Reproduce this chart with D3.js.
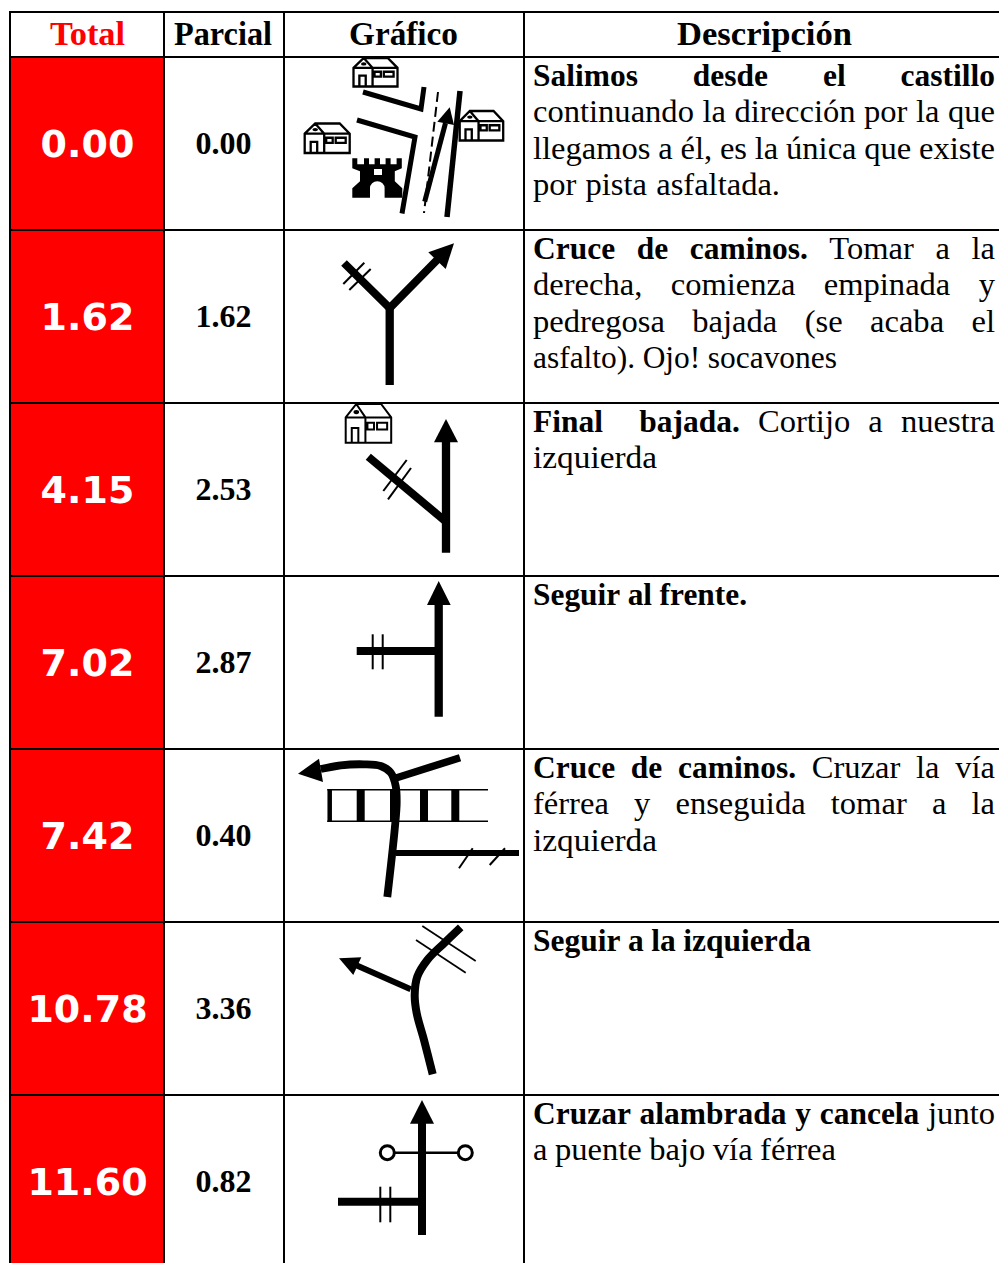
<!DOCTYPE html>
<html>
<head>
<meta charset="utf-8">
<script src="https://cdn.jsdelivr.net/npm/d3@7"></script>
<style>
  body { margin: 0; background: #fff; }
  svg { display: block; }
</style>
</head>
<body>
<svg id="chart"></svg>
<script>
// table content
const columns = ['Total', 'Parcial', 'Gráfico', 'Descripción'];
const totals = ['0.00', '1.62', '4.15', '7.02', '7.42', '10.78', '11.60'];
const parciales = ['0.00', '1.62', '2.53', '2.87', '0.40', '3.36', '0.82'];

// text before the | is bold
const descriptions = [
  ['Salimos desde el castillo|', 'continuando la dirección por la que', 'llegamos a él, es la única que existe', 'por pista asfaltada.'],
  ['Cruce de caminos.|Tomar a la', 'derecha, comienza empinada y', 'pedregosa bajada (se acaba el', 'asfalto). Ojo! socavones'],
  ['Final  bajada.|Cortijo a nuestra', 'izquierda'],
  ['Seguir al frente.|'],
  ['Cruce de caminos.|Cruzar la vía', 'férrea y enseguida tomar a la', 'izquierda'],
  ['Seguir a la izquierda|'],
  ['Cruzar alambrada y cancela|junto', 'a puente bajo vía férrea']
];
// where each line of text ends, 995 is a justified line
const lineEnds = [
  [995, 995, 995, 780],
  [995, 995, 995, 837],
  [995, 657],
  [747],
  [995, 995, 657],
  [811],
  [995, 836]
];

const width = 999,
  height = 1263,
  rowH = 173,
  serif = '"Liberation Serif", serif';

const x = d3.scaleOrdinal(columns.concat('end'), [10, 164, 284, 524, 1003]);
const y = d3.scaleLinear().domain([0, totals.length]).range([57, 57 + totals.length * rowH]);

const svg = d3.select('#chart').attr('width', width).attr('height', height);

// red column
svg.selectAll('rect.total')
  .data(totals)
  .enter()
  .append('rect')
  .attr('class', 'total')
  .attr('x', x('Total'))
  .attr('y', (d, i) => y(i))
  .attr('width', x('Parcial') - x('Total'))
  .attr('height', rowH)
  .attr('fill', '#ff0000');

// ---- helpers for the road sketches, coordinates are relative to the cell
const lineGen = d3.line();

function road(g, pts, w, curve) {
  return g.append('path')
    .attr('d', (curve ? d3.line().curve(curve) : lineGen)(pts))
    .attr('fill', 'none')
    .attr('stroke', '#000')
    .attr('stroke-width', w);
}

function head(g, pts) {
  g.append('path').attr('d', lineGen(pts) + 'Z').attr('fill', '#000');
}

function house(g, hx, hy, w, h, sw) {
  let sx = w / 45, sy = h / 29.5;
  let c = g.append('g').attr('transform', `translate(${hx},${hy}) scale(${sx},${sy})`);
  c.append('path')
    .attr('d', 'M0,10 L10.5,0 H35 L45,10 V29 H0 Z M0,10 H45 M10.5,0 L19.5,10 V29 ' +
      'M6,29 V18 H12.5 V29 M21.5,14 H28 V19 H21.5 Z M31,14 H41 V19 H31 Z')
    .attr('fill', 'none')
    .attr('stroke', '#000')
    .attr('stroke-width', sw)
    .attr('vector-effect', 'non-scaling-stroke');
  c.append('ellipse').attr('cx', 10.5).attr('cy', 6).attr('rx', 2.8).attr('ry', 1.6).attr('fill', '#000');
}

function castle(g, cx, cy) {
  g.append('path')
    .attr('transform', `translate(${cx},${cy})`)
    .attr('fill', '#000')
    .attr('fill-rule', 'evenodd')
    .attr('d', 'M0,0 H5 V6 H11.7 V0 H16.7 V6 H22.3 V0 H27.7 V6 H33.3 V0 H38.3 V6 H44.3 V0 H49.5 V10 ' +
      'L42.5,13 V23 L50,30 V39.4 H32.3 V30 A7.3,7 0 0 0 17.7,30 V39.4 H0 V30 L7.7,23 V13 L0,10 Z ' +
      'M21.7,10.7 H29.7 V16.7 H21.7 Z');
}

// one function per row
const sketches = [
  function (g) {
    house(g, 69.5, 1, 44, 29, 2.3);
    house(g, 20.7, 66.5, 45, 30, 2.3);
    house(g, 175.7, 54, 43.5, 30, 2.3);
    castle(g, 68.3, 101.3);
    road(g, [[79, 35], [137, 52], [140, 30]], 5);
    road(g, [[73, 63], [131, 80], [118, 156.5]], 5);
    road(g, [[176, 34], [163, 160]], 5.5);
    road(g, [[154, 35], [140, 156]], 2).attr('stroke-dasharray', '10,5');
    road(g, [[140.7, 144.7], [161.5, 66]], 5);
    head(g, [[165.7, 50.3], [153.3, 64.7], [170, 68]]);
  },
  function (g) {
    road(g, [[105.7, 155], [105.7, 78]], 8.3);
    road(g, [[60, 33], [105.7, 78], [155, 28]], 8);
    head(g, [[170, 13.3], [144.3, 22.3], [161.7, 39]]);
    road(g, [[59.3, 54], [80.3, 32.7]], 2);
    road(g, [[65.3, 60], [86.7, 39]], 2);
  },
  function (g) {
    house(g, 61.7, 1, 45.5, 39.5, 2);
    road(g, [[162, 149.7], [162, 37]], 8.3);
    head(g, [[162, 16], [150, 39.3], [174, 39.3]]);
    road(g, [[84.3, 53.7], [162, 118.7]], 8);
    road(g, [[99.3, 88], [122.7, 57]], 2);
    road(g, [[104, 96.3], [127, 65]], 2);
  },
  function (g) {
    road(g, [[154.7, 140.7], [154.7, 27]], 8.3);
    head(g, [[154.7, 5], [143, 29], [166.7, 29]]);
    road(g, [[72.7, 75], [154.7, 75]], 8);
    road(g, [[88.7, 58.3], [88.7, 93.3]], 2);
    road(g, [[98.7, 58.3], [98.7, 93.3]], 2);
  },
  function (g) {
    road(g, [[43.3, 40.7], [204, 40.7]], 1.6);
    road(g, [[43.3, 72.3], [204, 72.3]], 1.6);
    [[45.7, 4.5], [76.7, 8], [110, 8], [140, 8], [171.3, 8]].forEach(t => {
      road(g, [[t[0], 40], [t[0], 73]], t[1]);
    });
    road(g, [[103.3, 148], [110.7, 80.3], [112.7, 53.7], [111.7, 37], [106.7, 23.7], [96.7, 17], [80, 15.3], [56.7, 16.3], [36.7, 20]],
      7.8, d3.curveCatmullRom);
    head(g, [[14, 24.7], [35, 9.7], [39, 33]]);
    road(g, [[112, 29], [176, 8.7]], 7.5);
    road(g, [[111.7, 104], [235, 104]], 6);
    road(g, [[175, 119.3], [188.7, 99.3]], 2);
    road(g, [[205.7, 116], [221, 99.3]], 2);
  },
  function (g) {
    road(g, [[148.7, 152.3], [140, 118], [132.7, 91.3], [130.7, 73], [133.3, 54.7], [143.3, 38], [160, 21.3], [176.7, 5.3]],
      8, d3.curveCatmullRom);
    road(g, [[126.7, 67.3], [71.7, 43]], 6);
    head(g, [[55, 36.3], [77.3, 35.3], [69.3, 53]]);
    road(g, [[138.3, 4], [191.7, 39]], 1.7);
    road(g, [[132, 18], [181.7, 50.7]], 1.7);
  },
  function (g) {
    road(g, [[103.3, 57.7], [181.3, 57.7]], 2.5);
    road(g, [[138, 140], [138, 27]], 8);
    head(g, [[138, 5], [126, 28.7], [150, 28.7]]);
    road(g, [[54, 106.7], [138, 106.7]], 8);
    road(g, [[96.3, 91.7], [96.3, 127.3]], 2);
    road(g, [[106.3, 91.7], [106.3, 127.3]], 2);
    [103.3, 181.3].forEach(c => {
      g.append('circle').attr('cx', c).attr('cy', 57.7).attr('r', 7)
        .attr('fill', '#fff').attr('stroke', '#000').attr('stroke-width', 3);
    });
  }
];

sketches.forEach(function (draw, i) {
  draw(svg.append('g').attr('transform', `translate(${x('Gráfico')},${y(i)})`));
});

// grid on top so the houses get cut by the row line
const hLines = [12].concat(d3.range(totals.length).map(i => y(i)));
svg.selectAll('line.h')
  .data(hLines)
  .enter()
  .append('line')
  .attr('class', 'h')
  .attr('x1', 9).attr('x2', width)
  .attr('y1', d => d).attr('y2', d => d)
  .attr('stroke', '#000').attr('stroke-width', 2);

svg.selectAll('line.v')
  .data(columns)
  .enter()
  .append('line')
  .attr('class', 'v')
  .attr('x1', d => x(d)).attr('x2', d => x(d))
  .attr('y1', 11).attr('y2', height)
  .attr('stroke', '#000').attr('stroke-width', 2);

// header, the font is narrower than the original so it gets stretched a bit
const headerAt = { 'Total': 87.5, 'Parcial': 223, 'Gráfico': 403.5, 'Descripción': 764.5 };
const headerLen = { 'Total': 75, 'Parcial': 98, 'Gráfico': 109, 'Descripción': 175 };
svg.selectAll('text.head')
  .data(columns)
  .enter()
  .append('text')
  .attr('class', 'head')
  .attr('x', d => headerAt[d])
  .attr('y', 45)
  .attr('text-anchor', 'middle')
  .attr('font-family', serif)
  .attr('font-weight', 'bold')
  .attr('font-size', 33)
  .attr('textLength', d => headerLen[d])
  .attr('lengthAdjust', 'spacingAndGlyphs')
  .attr('fill', d => d === 'Total' ? '#ff0000' : '#000')
  .text(d => d);

// numbers
svg.selectAll('text.total')
  .data(totals)
  .enter()
  .append('text')
  .attr('class', 'total')
  .attr('x', 87.5)
  .attr('y', (d, i) => y(i) + 100)
  .attr('text-anchor', 'middle')
  .attr('font-family', '"DejaVu Sans", sans-serif')
  .attr('font-weight', 'bold')
  .attr('font-size', 38)
  .attr('fill', '#fff')
  .text(d => d);

svg.selectAll('text.parcial')
  .data(parciales)
  .enter()
  .append('text')
  .attr('class', 'parcial')
  .attr('x', 223.5)
  .attr('y', (d, i) => y(i) + 97)
  .attr('text-anchor', 'middle')
  .attr('font-family', serif)
  .attr('font-weight', 'bold')
  .attr('font-size', 32)
  .attr('fill', '#000')
  .text(d => d);

// description cell, words are placed one by one to fill the line
const descLeft = 533, leading = 36.35, descSize = 31, minGap = 7.5;
const stretchBold = 1.015, stretchReg = 1.05;
const ctx = document.createElement('canvas').getContext('2d');

function measure(word, bold) {
  ctx.font = `${bold ? 'bold ' : ''}${descSize}px "Liberation Serif"`;
  return ctx.measureText(word).width * (bold ? stretchBold : stretchReg);
}

descriptions.forEach(function (lines, r) {
  lines.forEach(function (line, l) {
    let parts = line.includes('|') ? line.split('|') : ['', line];
    let words = [];
    // double spaces stay as an empty word so they count as two gaps
    if (parts[0]) parts[0].split(' ').forEach(w => words.push({ t: w, b: true }));
    if (parts[1]) parts[1].split(' ').forEach(w => words.push({ t: w, b: false }));
    words.forEach(w => { w.w = measure(w.t, w.b); });

    let room = lineEnds[r][l] - descLeft;
    if (words.length === 1) words[0].w = room;
    let gap = (room - d3.sum(words, w => w.w)) / (words.length - 1);

    // line too tight, squeeze the words instead of the spaces
    if (gap < minGap) {
      let k = (room - minGap * (words.length - 1)) / d3.sum(words, w => w.w);
      words.forEach(w => { w.w *= k; });
      gap = minGap;
    }

    let cur = descLeft;
    words.forEach(function (w) {
      if (w.t) {
        svg.append('text')
          .attr('x', cur)
          .attr('y', y(r) + 29 + l * leading)
          .attr('font-family', serif)
          .attr('font-weight', w.b ? 'bold' : 'normal')
          .attr('font-size', descSize)
          .attr('textLength', w.w)
          .attr('lengthAdjust', 'spacingAndGlyphs')
          .attr('fill', '#000')
          .text(w.t);
      }
      cur += w.w + gap;
    });
  });
});
</script>
</body>
</html>
